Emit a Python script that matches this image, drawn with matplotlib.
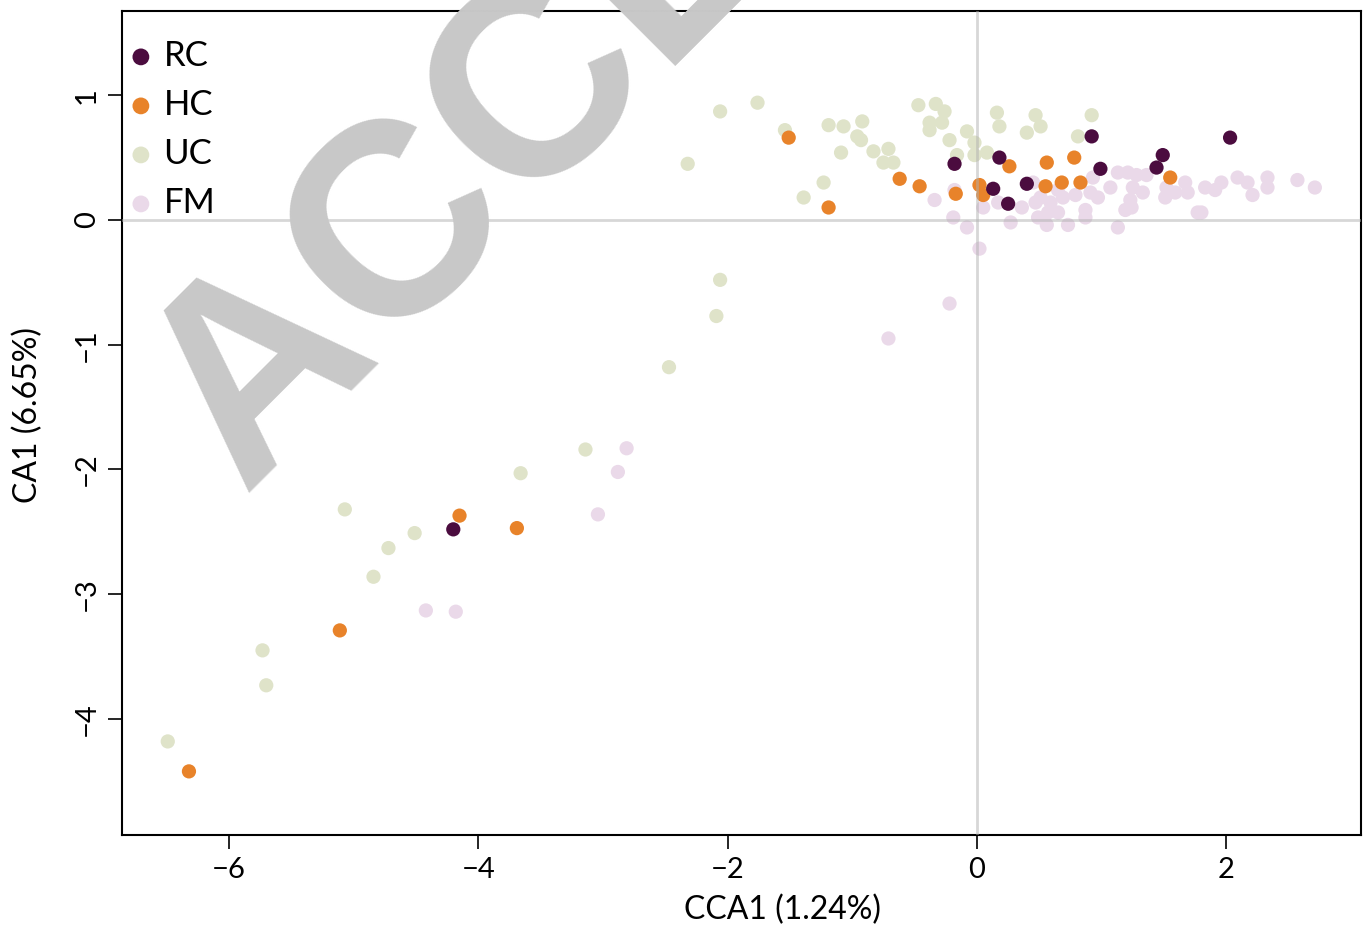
import matplotlib
matplotlib.use("Agg")
import matplotlib.pyplot as plt

groups = ["RC", "HC", "UC", "FM"]
colors = {"RC": "#4b0c3f", "HC": "#e8832a", "UC": "#dfe3c9", "FM": "#ead9e9"}

rc_x = [-4.20, -0.18, 0.18, 0.13, 0.25, 0.40, 0.92, 0.99, 1.44, 1.49, 2.03]
rc_y = [-2.48, 0.45, 0.50, 0.25, 0.13, 0.29, 0.67, 0.41, 0.42, 0.52, 0.66]

hc_x = [-6.32, -5.11, -4.15, -3.69, -1.51, -1.19, -0.62, -0.46, -0.17, 0.02,
        0.05, 0.26, 0.56, 0.55, 0.68, 0.78, 0.83, 1.55]
hc_y = [-4.42, -3.29, -2.37, -2.47, 0.66, 0.10, 0.33, 0.27, 0.21, 0.28,
        0.20, 0.43, 0.46, 0.27, 0.30, 0.50, 0.30, 0.34]

uc_x = [-6.49, -5.73, -5.70, -5.07, -4.84, -4.72, -4.51, -3.66, -3.14, -2.47,
        -2.09, -2.06, -2.32, -2.06, -1.76, -1.54, -1.39, -1.23, -1.19, -1.07,
        -0.92, -0.96, -0.93, -1.09, -0.83, -0.71, -0.75, -0.67, -0.47, -0.33,
        -0.26, -0.38, -0.28, -0.38, -0.22, -0.08, -0.16, -0.02, -0.02, 0.08,
        0.16, 0.18, 0.47, 0.51, 0.40, 0.92, 0.81]
uc_y = [-4.18, -3.45, -3.73, -2.32, -2.86, -2.63, -2.51, -2.03, -1.84, -1.18,
        -0.77, -0.48, 0.45, 0.87, 0.94, 0.72, 0.18, 0.30, 0.76, 0.75,
        0.79, 0.67, 0.64, 0.54, 0.55, 0.57, 0.46, 0.46, 0.92, 0.93,
        0.87, 0.78, 0.78, 0.72, 0.64, 0.71, 0.52, 0.62, 0.52, 0.54,
        0.86, 0.75, 0.84, 0.75, 0.70, 0.84, 0.67]

fm_x = [-4.42, -4.18, -3.04, -2.88, -2.81, -0.71, -0.22, 0.02, -0.34, -0.18,
        -0.19, -0.08, 0.05, 0.17, 0.27, 0.36, 0.45, 0.47, 0.51, 0.59,
        0.49, 0.57, 0.65, 0.56, 0.73, 0.69, 0.65, 0.91, 0.97, 0.93,
        0.87, 0.87, 1.07, 1.13, 1.21, 1.25, 1.19, 1.24, 1.13, 1.28,
        1.36, 1.33, 1.23, 1.52, 1.51, 1.59, 1.67, 1.69, 1.77, 1.80,
        1.83, 1.91, 1.96, 2.09, 2.17, 2.21, 2.33, 2.33, 2.57, 2.71,
        0.79]
fm_y = [-3.13, -3.14, -2.36, -2.02, -1.83, -0.95, -0.67, -0.23, 0.16, 0.24,
        0.02, -0.06, 0.10, 0.14, -0.02, 0.10, 0.30, 0.14, 0.18, 0.14,
        0.02, 0.06, 0.06, -0.04, -0.04, 0.18, 0.24, 0.22, 0.18, 0.34,
        0.08, 0.02, 0.26, 0.38, 0.38, 0.26, 0.08, 0.10, -0.06, 0.36,
        0.36, 0.22, 0.16, 0.26, 0.18, 0.22, 0.30, 0.22, 0.06, 0.06,
        0.26, 0.24, 0.30, 0.34, 0.30, 0.20, 0.34, 0.26, 0.32, 0.26,
        0.20]

data = {"RC": (rc_x, rc_y), "HC": (hc_x, hc_y), "UC": (uc_x, uc_y), "FM": (fm_x, fm_y)}

plt.rcParams["font.family"] = ["Lato", "DejaVu Sans"]

fig = plt.figure(figsize=(13.66, 9.32), dpi=100)
ax = fig.add_axes([122 / 1366, 97 / 932, 1239 / 1366, 824 / 932])

handles = {}
for g in ["FM", "UC", "HC", "RC"]:
    x, y = data[g]
    handles[g] = ax.scatter(x, y, s=105, color=colors[g], edgecolors="none",
                            label=g, zorder=2)

ax.axhline(0, color="#b0b0b0", alpha=0.5, lw=2, zorder=3)
ax.axvline(0, color="#b0b0b0", alpha=0.5, lw=2, zorder=3)

ax.set_xlim(-6.857, 3.08)
ax.set_ylim(-4.93, 1.675)
ax.set_xticks([-6, -4, -2, 0, 2])
ax.set_yticks([-4, -3, -2, -1, 0, 1])
ax.set_xticklabels(["\u22126", "\u22124", "\u22122", "0", "2"])
ax.set_yticklabels(["\u22124", "\u22123", "\u22122", "\u22121", "0", "1"],
                   rotation=90, va="center")
ax.tick_params(axis="both", direction="out", length=10, width=1.2,
               labelsize=21, pad=6)
for s in ax.spines.values():
    s.set_linewidth(1.5)

ax.set_xlabel("CCA1 (1.24%)", fontsize=23)
ax.set_ylabel("CA1 (6.65%)", fontsize=23)
ax.xaxis.set_label_coords(0.533, -0.072)
ax.yaxis.set_label_coords(-0.064, 0.51)

ax.legend([handles[g] for g in groups], groups, loc="upper left",
          bbox_to_anchor=(5 / 1239, 1 - 29 / 824),
          frameon=False, fontsize=25, handlelength=0.8, handletextpad=0.25,
          labelspacing=0.49, borderaxespad=0, borderpad=0, markerscale=1.18)

fig.text(242 / 1366, 1 - 493 / 932, "ACCEPTED", fontsize=197, fontweight="bold",
         color="#c8c8c8", rotation=45, rotation_mode="anchor",
         ha="left", va="baseline", family="Liberation Sans", zorder=10)

fig.savefig("out.png", dpi=100)
